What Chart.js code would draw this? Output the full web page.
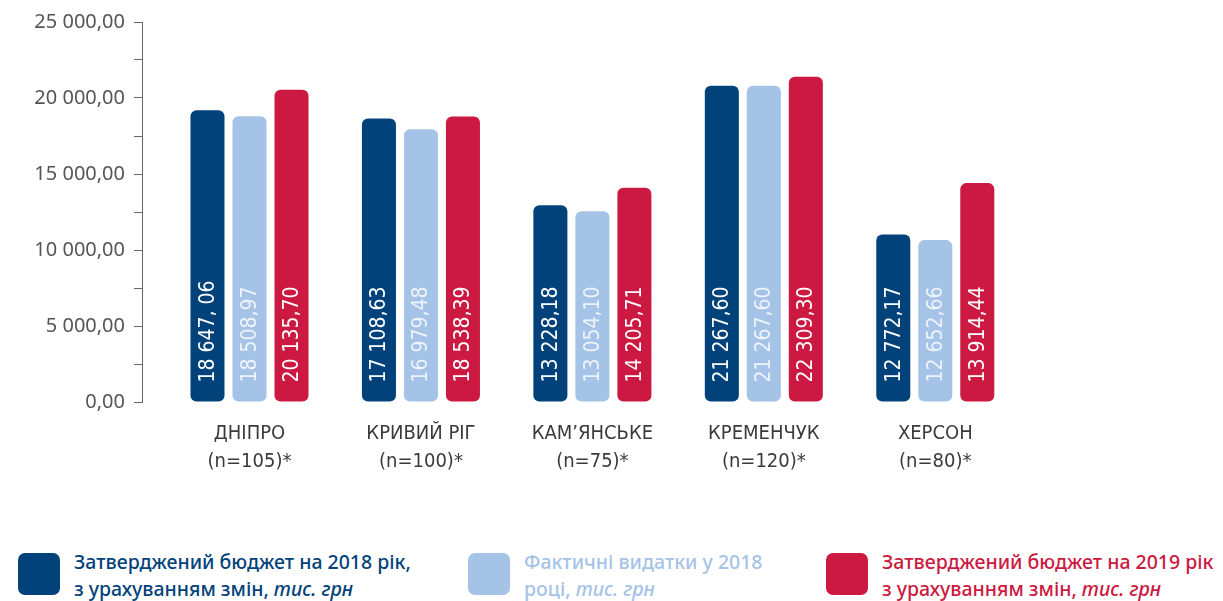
<!DOCTYPE html>
<html lang="uk">
<head>
  <meta charset="UTF-8">
  <title>Бюджет міст</title>
  <script src="https://cdn.jsdelivr.net/npm/chart.js"></script>
  <style>
    body {
      margin: 0;
      background-color: #ffffff;
      font-family: "Noto Sans", sans-serif;
    }
    .wrap {
      position: relative;
      width: 1223px;
      height: 601px;
    }
    #budgetChart {
      position: absolute;
      left: 0;
      top: 0;
    }
    .item {
      position: absolute;
      top: 553px;
      display: flex;
      align-items: flex-start;
    }
    .sw {
      width: 42px;
      height: 42px;
      border-radius: 7px;
      flex: none;
    }
    .txt {
      margin-left: 14px;
      margin-top: -5px;
      font-size: 19.5px;
      line-height: 27px;
      font-weight: 500;
      white-space: nowrap;
    }
  </style>
</head>
<body>
  <div class="wrap">
    <canvas id="budgetChart" width="1223" height="494"></canvas>

    <div class="item" style="left:18px">
      <div class="sw" style="background:#02427a"></div>
      <div class="txt" style="color:#02427a">Затверджений бюджет на 2018 рік,<br>з урахуванням змін, <i>тис. грн</i></div>
    </div>
    <div class="item" style="left:468px">
      <div class="sw" style="background:#a5c3e6"></div>
      <div class="txt" style="color:#a5c3e6">Фактичні видатки у 2018<br>році, <i>тис. грн</i></div>
    </div>
    <div class="item" style="left:826px">
      <div class="sw" style="background:#cc1941"></div>
      <div class="txt" style="color:#cc1941">Затверджений бюджет на 2019 рік<br>з урахуванням змін, <i>тис. грн</i></div>
    </div>
  </div>

  <script>
    // categories (two-line labels)
    const cities = [
      ['ДНІПРО', '(n=105)*'],
      ['КРИВИЙ РІГ', '(n=100)*'],
      ['КАМ’ЯНСЬКЕ', '(n=75)*'],
      ['КРЕМЕНЧУК', '(n=120)*'],
      ['ХЕРСОН', '(n=80)*']
    ];

    // bar heights as drawn in the picture
    const budget2018 = [19200, 18650, 12940, 20800, 11020];
    const actual2018 = [18800, 17950, 12550, 20800, 10650];
    const budget2019 = [20550, 18780, 14100, 21400, 14400];

    // texts printed inside the bars
    const budget2018Text = ['18 647, 06', '17 108,63', '13 228,18', '21 267,60', '12 772,17'];
    const actual2018Text = ['18 508,97', '16 979,48', '13 054,10', '21 267,60', '12 652,66'];
    const budget2019Text = ['20 135,70', '18 538,39', '14 205,71', '22 309,30', '13 914,44'];

    const yMax = 25000;
    const yStep = 2500;
    const yLabelStep = 5000;

    const toPoints = arr => arr.map((v, i) => ({ x: i, y: v }));

    // vertical value texts inside bars
    const barText = {
      id: 'barText',
      afterDatasetsDraw(chart) {
        const ctx = chart.ctx;
        chart.data.datasets.forEach((ds, di) => {
          const meta = chart.getDatasetMeta(di);
          meta.data.forEach((bar, i) => {
            ctx.save();
            ctx.translate(bar.x, bar.base - 19);
            ctx.rotate(-Math.PI / 2);
            ctx.textAlign = 'left';
            ctx.textBaseline = 'middle';
            ctx.fillStyle = ds.textColor;
            ctx.font = '21px "Liberation Sans Narrow", "DejaVu Sans Condensed", sans-serif';
            ctx.fillText(ds.valueText[i], 0, 1);
            ctx.restore();
          });
        });
      }
    };

    const ctx = document.getElementById('budgetChart').getContext('2d');
    new Chart(ctx, {
      type: 'bar',
      data: {
        datasets: [
          {
            label: 'Затверджений бюджет на 2018 рік',
            data: toPoints(budget2018),
            valueText: budget2018Text,
            textColor: '#ffffff',
            backgroundColor: '#02427a'
          },
          {
            label: 'Фактичні видатки у 2018 році',
            data: toPoints(actual2018),
            valueText: actual2018Text,
            textColor: '#eef3fa',
            backgroundColor: '#a5c3e6'
          },
          {
            label: 'Затверджений бюджет на 2019 рік',
            data: toPoints(budget2019),
            valueText: budget2019Text,
            textColor: '#ffffff',
            backgroundColor: '#cc1941'
          }
        ]
      },
      options: {
        responsive: false,
        animation: false,
        categoryPercentage: 0.735,
        barPercentage: 0.81,
        borderRadius: 6,
        borderSkipped: false,
        layout: {
          padding: { left: 0, right: 202, top: 22, bottom: 0 }
        },
        plugins: {
          legend: { display: false },
          tooltip: { enabled: false }
        },
        scales: {
          x: {
            type: 'linear',
            min: -0.627,
            max: 4.5,
            offset: false,
            grid: { display: false, drawTicks: false },
            border: { display: false },
            ticks: {
              stepSize: 1,
              includeBounds: false,
              autoSkip: false,
              maxRotation: 0,
              padding: 18,
              color: '#3a3a3a',
              font: { family: '"Liberation Sans Narrow", "DejaVu Sans Condensed", sans-serif', size: 20, lineHeight: 1.4 },
              callback: v => (Number.isInteger(v) && cities[v]) ? cities[v] : ''
            }
          },
          y: {
            min: 0,
            max: yMax,
            afterFit: scale => { scale.width = 142; },
            grid: {
              drawOnChartArea: false,
              color: '#666666',
              tickLength: 8
            },
            border: { color: '#666666', width: 1 },
            ticks: {
              stepSize: yStep,
              padding: 9,
              color: '#555555',
              font: { family: '"Noto Sans", sans-serif', size: 20 },
              callback: v => {
                if (v % yLabelStep !== 0) return '';
                return v === 0 ? '0,00' : (v / 1000) + ' 000,00';
              }
            }
          }
        }
      },
      plugins: [barText]
    });
  </script>
</body>
</html>
